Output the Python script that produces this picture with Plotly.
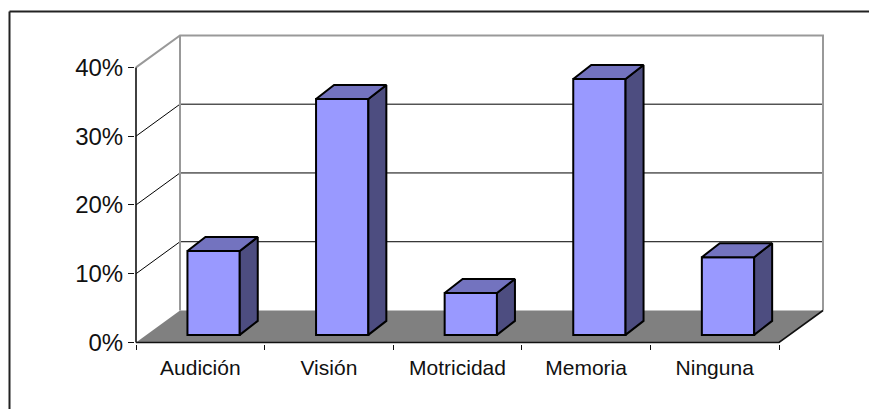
import plotly.graph_objects as go

categories = ["Audición", "Visión", "Motricidad", "Memoria", "Ninguna"]
values = [12.2, 34.3, 6.1, 37.2, 11.3]
y_ticks = [0, 10, 20, 30, 40]

W, H = 869, 409
PX_CAT = 128.6      # px per category
PX_PCT = 6.88       # px per percentage point
LEFT, BASE = 136.0, 342.6

# 3D depth in data units
WALL_DX, WALL_DY = 44 / PX_CAT, 32 / PX_PCT
BAR_W = 52.3 / PX_CAT
BAR_SHIFT = 13.3 / PX_CAT
BAR_BASE = 7.6 / PX_PCT
BAR_DX, BAR_DY = 18 / PX_CAT, 14 / PX_PCT

x0, x1 = -0.5, 4.5
y_top = 40

FRONT, TOP, SIDE = "#9999FF", "#7373BF", "#4D4D80"
FLOOR, WALL = "#808080", "#999999"
INK = "#111111"

pad_l, pad_b = 1.0, 1.5
plot_l, plot_r = LEFT - pad_l, 832
plot_t, plot_b = 28, BASE + pad_b

fig = go.Figure()


def poly(xs, ys, **kw):
    return dict(type="path", xref="x", yref="y", layer="below",
                path="M" + " L".join(f"{a},{b}" for a, b in zip(xs, ys)), **kw)


shapes = []
# floor
shapes.append(poly([x0, x1, x1 + WALL_DX, x0 + WALL_DX, x0], [0, 0, WALL_DY, WALL_DY, 0],
                   fillcolor=FLOOR, line=dict(width=0)))
# gridlines bent along the left side wall and back wall
for t in y_ticks[1:-1]:
    shapes.append(poly([x0, x0 + WALL_DX, x1 + WALL_DX], [t, t + WALL_DY, t + WALL_DY],
                       line=dict(color="black", width=1)))
# back wall outline
shapes.append(poly([x0, x0 + WALL_DX, x1 + WALL_DX, x1 + WALL_DX],
                   [y_top, y_top + WALL_DY, y_top + WALL_DY, WALL_DY],
                   line=dict(color=WALL, width=2)))
shapes.append(poly([x0 + WALL_DX, x0 + WALL_DX], [WALL_DY, y_top + WALL_DY],
                   line=dict(color=WALL, width=2)))
# front axes
shapes.append(poly([x0, x0], [0, y_top], line=dict(color=INK, width=1.6)))
shapes.append(poly([x0, x1, x1 + WALL_DX], [0, 0, WALL_DY], line=dict(color=INK, width=1.6)))

# bars: front faces
bar_x = [i + BAR_SHIFT for i in range(len(values))]
fig.add_trace(go.Bar(x=bar_x, y=values, base=BAR_BASE, width=BAR_W,
                     marker=dict(color=FRONT, line=dict(color="black", width=2)),
                     hoverinfo="skip", showlegend=False))

# bars: side and top faces
sx, sy, tx, ty = [], [], [], []
for cx, v in zip(bar_x, values):
    l, r = cx - BAR_W / 2, cx + BAR_W / 2
    b, t = BAR_BASE, BAR_BASE + v
    sx += [r, r + BAR_DX, r + BAR_DX, r, r, None]
    sy += [b, b + BAR_DY, t + BAR_DY, t, b, None]
    tx += [l, l + BAR_DX, r + BAR_DX, r, l, None]
    ty += [t, t + BAR_DY, t + BAR_DY, t, t, None]
for xs, ys, c in ((sx, sy, SIDE), (tx, ty, TOP)):
    fig.add_trace(go.Scatter(x=xs, y=ys, mode="lines", fill="toself", fillcolor=c,
                             line=dict(color="black", width=2), hoverinfo="skip",
                             showlegend=False))

# outer chart frame: top and left edges only
fx = (9.5 - plot_l) / (plot_r - plot_l)
fx1 = (W - plot_l) / (plot_r - plot_l)
fy = (plot_b - 11.5) / (plot_b - plot_t)
fy1 = (plot_b - H) / (plot_b - plot_t)
shapes.append(dict(type="line", xref="paper", yref="paper", layer="above",
                   x0=fx, x1=fx1, y0=fy, y1=fy, line=dict(color="#222222", width=2)))
shapes.append(dict(type="line", xref="paper", yref="paper", layer="above",
                   x0=fx, x1=fx, y0=fy, y1=fy1, line=dict(color="#222222", width=2)))

fig.update_layout(
    width=W, height=H, autosize=False,
    margin=dict(l=plot_l, r=W - plot_r, t=plot_t, b=H - plot_b, pad=0),
    paper_bgcolor="white", plot_bgcolor="white",
    font=dict(family="Liberation Sans, Arial, sans-serif", color=INK),
    shapes=shapes, showlegend=False,
    xaxis=dict(
        range=[x0 - pad_l / PX_CAT, x0 + (plot_r - LEFT) / PX_CAT],
        tickmode="array", tickvals=list(range(len(categories))), ticktext=categories,
        ticks="", showgrid=False, zeroline=False, showline=False,
        tickfont=dict(size=21), ticklabelstandoff=9,
        minor=dict(tickmode="array", tickvals=[x0 + i for i in range(len(categories) + 1)],
                   ticks="outside", ticklen=5, tickwidth=1, tickcolor=INK, showgrid=False),
    ),
    yaxis=dict(
        range=[-pad_b / PX_PCT, (BASE - plot_t) / PX_PCT],
        tickmode="array", tickvals=y_ticks, ticktext=[f"{t}%" for t in y_ticks],
        ticks="outside", ticklen=6, tickwidth=1, tickcolor=INK,
        showgrid=False, zeroline=False, showline=False,
        tickfont=dict(size=24),
    ),
)
fig.write_html("out.html", config=dict(displayModeBar=False), post_script=(
    "document.body.style.margin='0';document.body.style.overflow='hidden';"
    "window.dispatchEvent(new Event('resize'));"))
